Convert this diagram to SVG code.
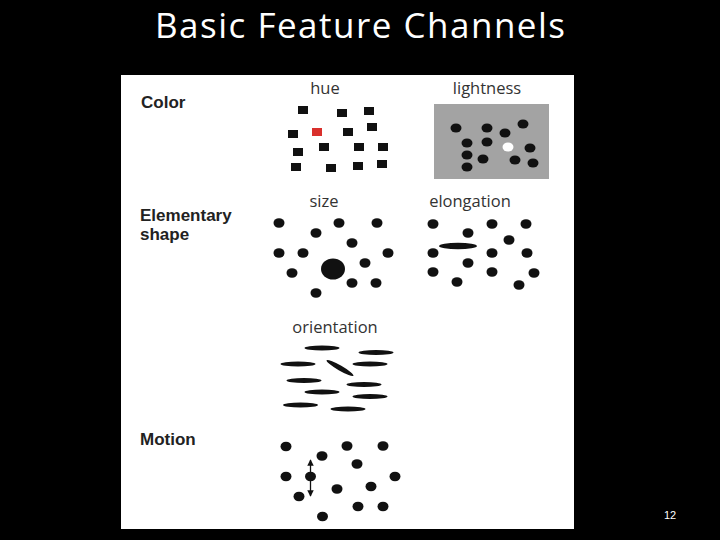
<svg xmlns="http://www.w3.org/2000/svg" width="720" height="540" viewBox="0 0 720 540">
<style>
.title{font-family:"Open Sans","Liberation Sans",Arial,sans-serif;font-size:35px;fill:#fff}
.lab{font-family:"Open Sans","Liberation Sans",sans-serif;font-size:16.5px;fill:#333;text-anchor:middle}
.cat{font-family:"Liberation Sans",Arial,sans-serif;font-size:17px;font-weight:bold;fill:#222}
.sq{fill:#111}
.d{fill:#111}
.num{font-family:"Liberation Sans",Arial,sans-serif;font-size:11px;fill:#fff}
</style>
<defs>
<marker id="ah" viewBox="0 0 10 10" refX="9" refY="5" markerWidth="5" markerHeight="5" orient="auto-start-reverse">
<path d="M0,0 L10,5 L0,10 z" fill="#111"/>
</marker>
</defs>
<rect width="720" height="540" fill="#000"/>
<text class="title" x="360" y="38" text-anchor="middle" textLength="410">Basic Feature Channels</text>
<rect x="121" y="75" width="453" height="454" fill="#fff"/>

<g id="color-label"><text class="cat" x="141" y="108">Color</text></g>
<g id="shape-label"><text class="cat" x="140" y="221">Elementary</text><text class="cat" x="140" y="240">shape</text></g>
<g id="motion-label"><text class="cat" x="140" y="445">Motion</text></g>

<g id="hue">
<text class="lab" x="325" y="94">hue</text>
<rect class="sq" x="298" y="106" width="10" height="8"/>
<rect class="sq" x="337" y="109" width="10" height="8"/>
<rect class="sq" x="364" y="107" width="10" height="8"/>
<rect class="sq" x="288" y="130" width="10" height="8"/>
<rect x="312" y="128" width="10" height="8" fill="#d9302c"/>
<rect class="sq" x="343" y="128" width="10" height="8"/>
<rect class="sq" x="367" y="123" width="10" height="8"/>
<rect class="sq" x="293" y="148" width="10" height="8"/>
<rect class="sq" x="319" y="143" width="10" height="8"/>
<rect class="sq" x="354" y="143" width="10" height="8"/>
<rect class="sq" x="378" y="143" width="10" height="8"/>
<rect class="sq" x="291" y="163" width="10" height="8"/>
<rect class="sq" x="326" y="164" width="10" height="8"/>
<rect class="sq" x="353" y="162" width="10" height="8"/>
<rect class="sq" x="377" y="160" width="10" height="8"/>
</g>

<g id="lightness">
<text class="lab" x="487" y="94">lightness</text>
<rect x="434" y="104" width="115" height="75" fill="#a3a3a3"/>
<ellipse class="d" cx="456" cy="128" rx="5.5" ry="4.5"/>
<ellipse class="d" cx="487" cy="128" rx="5.5" ry="4.5"/>
<ellipse class="d" cx="505" cy="133" rx="5.5" ry="4.5"/>
<ellipse class="d" cx="523" cy="124" rx="5.5" ry="4.5"/>
<ellipse class="d" cx="467" cy="143" rx="5.5" ry="4.5"/>
<ellipse class="d" cx="487" cy="142" rx="5.5" ry="4.5"/>
<ellipse cx="508" cy="147" rx="5.5" ry="4.5" fill="#fff"/>
<ellipse class="d" cx="530" cy="148" rx="5.5" ry="4.5"/>
<ellipse class="d" cx="467" cy="155" rx="5.5" ry="4.5"/>
<ellipse class="d" cx="483" cy="159" rx="5.5" ry="4.5"/>
<ellipse class="d" cx="515" cy="160" rx="5.5" ry="4.5"/>
<ellipse class="d" cx="533" cy="163" rx="5.5" ry="4.5"/>
<ellipse class="d" cx="467" cy="167" rx="5.5" ry="4.5"/>
</g>

<g id="size">
<text class="lab" x="324" y="207">size</text>
<ellipse class="d" cx="279" cy="223" rx="5.5" ry="4.8"/>
<ellipse class="d" cx="339" cy="223" rx="5.5" ry="4.8"/>
<ellipse class="d" cx="377" cy="223" rx="5.5" ry="4.8"/>
<ellipse class="d" cx="316" cy="233" rx="5.5" ry="4.8"/>
<ellipse class="d" cx="352" cy="243" rx="5.5" ry="4.8"/>
<ellipse class="d" cx="279" cy="253" rx="5.5" ry="4.8"/>
<ellipse class="d" cx="303" cy="253" rx="5.5" ry="4.8"/>
<ellipse class="d" cx="388" cy="253" rx="5.5" ry="4.8"/>
<ellipse class="d" cx="365" cy="263" rx="5.5" ry="4.8"/>
<ellipse class="d" cx="333" cy="269" rx="12" ry="10.5"/>
<ellipse class="d" cx="292" cy="273" rx="5.5" ry="4.8"/>
<ellipse class="d" cx="352" cy="283" rx="5.5" ry="4.8"/>
<ellipse class="d" cx="376" cy="283" rx="5.5" ry="4.8"/>
<ellipse class="d" cx="316" cy="293" rx="5.5" ry="4.8"/>
</g>

<g id="elongation">
<text class="lab" x="470" y="207">elongation</text>
<ellipse class="d" cx="433" cy="224" rx="5.5" ry="4.8"/>
<ellipse class="d" cx="492" cy="224" rx="5.5" ry="4.8"/>
<ellipse class="d" cx="526" cy="224" rx="5.5" ry="4.8"/>
<ellipse class="d" cx="468" cy="233" rx="5.5" ry="4.8"/>
<ellipse class="d" cx="509" cy="240" rx="5.5" ry="4.8"/>
<ellipse class="d" cx="458" cy="246" rx="19" ry="3.2"/>
<ellipse class="d" cx="433" cy="253" rx="5.5" ry="4.8"/>
<ellipse class="d" cx="492" cy="253" rx="5.5" ry="4.8"/>
<ellipse class="d" cx="527" cy="253" rx="5.5" ry="4.8"/>
<ellipse class="d" cx="468" cy="263" rx="5.5" ry="4.8"/>
<ellipse class="d" cx="433" cy="272" rx="5.5" ry="4.8"/>
<ellipse class="d" cx="492" cy="272" rx="5.5" ry="4.8"/>
<ellipse class="d" cx="534" cy="273" rx="5.5" ry="4.8"/>
<ellipse class="d" cx="457" cy="282" rx="5.5" ry="4.8"/>
<ellipse class="d" cx="519" cy="285" rx="5.5" ry="4.8"/>
</g>

<g id="orientation">
<text class="lab" x="335" y="333">orientation</text>
<ellipse class="d" cx="322" cy="348" rx="17.5" ry="2.6"/>
<ellipse class="d" cx="376" cy="352.5" rx="17.5" ry="2.6"/>
<ellipse class="d" cx="298" cy="364" rx="17.5" ry="2.6"/>
<ellipse class="d" cx="370" cy="364" rx="17.5" ry="2.6"/>
<ellipse class="d" cx="340" cy="368" rx="15.5" ry="2.6" transform="rotate(30 340 368)"/>
<ellipse class="d" cx="304" cy="380.5" rx="17.5" ry="2.6"/>
<ellipse class="d" cx="364" cy="384.5" rx="17.5" ry="2.6"/>
<ellipse class="d" cx="322" cy="392" rx="17.5" ry="2.6"/>
<ellipse class="d" cx="370" cy="396.5" rx="17.5" ry="2.6"/>
<ellipse class="d" cx="300.5" cy="405" rx="17.5" ry="2.6"/>
<ellipse class="d" cx="348" cy="409" rx="17.5" ry="2.6"/>
</g>

<g id="motion">
<ellipse class="d" cx="286" cy="446.5" rx="5.5" ry="4.8"/>
<ellipse class="d" cx="347" cy="446" rx="5.5" ry="4.8"/>
<ellipse class="d" cx="383" cy="446" rx="5.5" ry="4.8"/>
<ellipse class="d" cx="322" cy="456" rx="5.5" ry="4.8"/>
<ellipse class="d" cx="357" cy="464" rx="5.5" ry="4.8"/>
<ellipse class="d" cx="286" cy="476.5" rx="5.5" ry="4.8"/>
<ellipse class="d" cx="310.5" cy="476.5" rx="5.5" ry="4.8"/>
<ellipse class="d" cx="395" cy="476.5" rx="5.5" ry="4.8"/>
<ellipse class="d" cx="371" cy="486.5" rx="5.5" ry="4.8"/>
<ellipse class="d" cx="337" cy="489" rx="5.5" ry="4.8"/>
<ellipse class="d" cx="299" cy="496.5" rx="5.5" ry="4.8"/>
<ellipse class="d" cx="358" cy="506.5" rx="5.5" ry="4.8"/>
<ellipse class="d" cx="383" cy="506.5" rx="5.5" ry="4.8"/>
<ellipse class="d" cx="322.5" cy="516.5" rx="5.5" ry="4.8"/>
</g>
<g id="connectors">
<line x1="310.5" y1="460" x2="310.5" y2="496" stroke="#111" stroke-width="1.3" marker-start="url(#ah)" marker-end="url(#ah)"/>
</g>
<text class="num" x="670" y="519" text-anchor="middle">12</text>
</svg>
